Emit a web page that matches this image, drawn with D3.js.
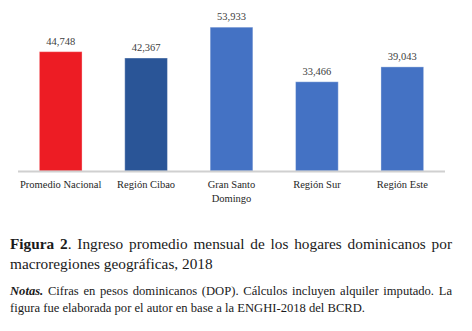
<!DOCTYPE html>
<html>
<head>
<meta charset="utf-8">
<script src="https://cdn.jsdelivr.net/npm/d3@7"></script>
<style>
  body { margin: 0; background: #fff; font-family: "Liberation Serif", "DejaVu Serif", serif; }
  svg { display: block; }
  .caption { position: absolute; left: 10px; width: 442px; color: #1a1a1a; }
  .caption .l1 { display: block; text-align: justify; text-align-last: justify; white-space: nowrap; }
  .caption .l2 { display: block; text-align: left; white-space: nowrap; }
  #fig { top: 234px; font-size: 15.3px; line-height: 20px; }
  #notes { top: 283px; font-size: 12.6px; line-height: 17px; }
</style>
</head>
<body>
<svg></svg>
<div id="fig" class="caption"><span class="l1"><b>Figura 2</b>. Ingreso promedio mensual de los hogares dominicanos por</span><span class="l2">macroregiones geográficas, 2018</span></div>
<div id="notes" class="caption"><span class="l1"><b><i>Notas.</i></b> Cifras en pesos dominicanos (DOP). Cálculos incluyen alquiler imputado. La</span><span class="l2">figura fue elaborada por el autor en base a la ENGHI-2018 del BCRD.</span></div>
<script>
const categories = [["Promedio Nacional"], ["Región Cibao"], ["Gran Santo", "Domingo"], ["Región Sur"], ["Región Este"]]
const values = [44748, 42367, 53933, 33466, 39043]
const barColors = ["#ED1C24", "#2A5597", "#4472C4", "#4472C4", "#4472C4"]

const width = 472, height = 215
const margin = {top: 11, left: 18, right: 27, bottom: 44}

const svg = d3.select("svg").attr("width", width).attr("height", height)

const keys = categories.map(c => c.join(" "))

const x = d3.scaleBand()
  .domain(keys)
  .range([margin.left, width - margin.right])
  .paddingInner(0.5)
  .paddingOuter(0.25)

const y = d3.scaleLinear()
  .domain([0, 60000])
  .range([height - margin.bottom, margin.top])

const fmt = d3.format(",")

svg.selectAll("rect.bar")
  .data(values)
  .join("rect")
  .attr("class", "bar")
  .attr("x", (d, i) => x(keys[i]))
  .attr("y", d => y(d))
  .attr("width", x.bandwidth())
  .attr("height", d => y(0) - y(d))
  .attr("fill", (d, i) => barColors[i])
  .attr("stroke", "#fff")
  .attr("stroke-opacity", 0.35)
  .attr("stroke-width", 1)

// baseline
svg.append("line")
  .attr("x1", margin.left)
  .attr("x2", width - margin.right)
  .attr("y1", y(0) + 0.5)
  .attr("y2", y(0) + 0.5)
  .attr("stroke", "#D0D0D0")
  .attr("stroke-width", 2)

svg.selectAll("text.val")
  .data(values)
  .join("text")
  .attr("class", "val")
  .attr("x", (d, i) => x(keys[i]) + x.bandwidth() / 2)
  .attr("y", d => y(d) - 7)
  .attr("text-anchor", "middle")
  .attr("font-size", 10.5)
  .attr("fill", "#404040")
  .text(d => fmt(d))

svg.selectAll("text.cat")
  .data(categories)
  .join("text")
  .attr("class", "cat")
  .attr("text-anchor", "middle")
  .attr("font-size", 10.5)
  .attr("fill", "#262626")
  .each(function (d, i) {
    d3.select(this).selectAll("tspan")
      .data(d)
      .join("tspan")
      .attr("x", x(keys[i]) + x.bandwidth() / 2)
      .attr("y", (t, j) => y(0) + 17 + j * 14)
      .text(t => t)
  })
</script>
</body>
</html>
